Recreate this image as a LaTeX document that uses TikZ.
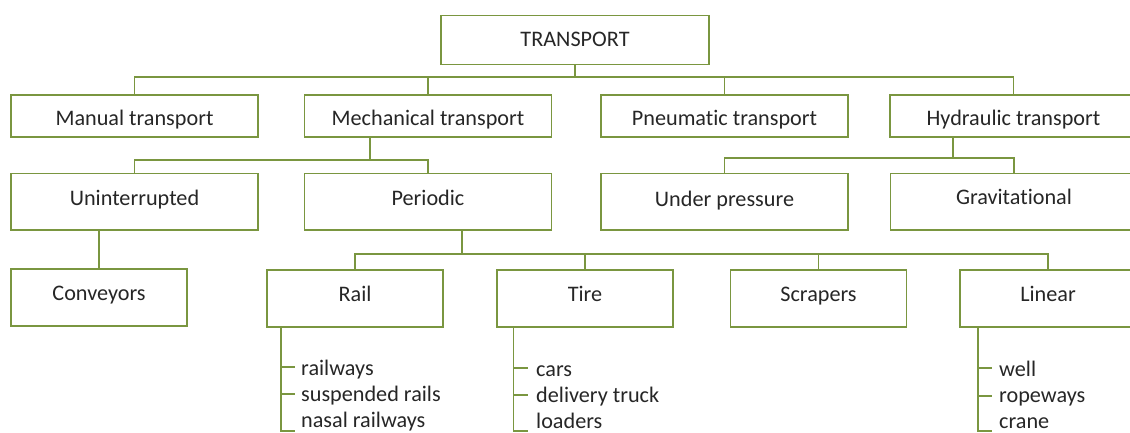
\documentclass[tikz,border=0pt]{standalone}
\usepackage{fontspec}
\setmainfont{Carlito}[Ligatures={NoCommon}]
\definecolor{linegreen}{RGB}{122,150,64}
\definecolor{txt}{RGB}{38,38,38}
\tikzset{
  box/.style={draw=linegreen, line width=1.4pt, rectangle, inner sep=0pt, text=txt,
    font=\fontsize{22.2}{26}\selectfont, text depth=0pt},
  lvlT/.style={box, minimum width=268pt, minimum height=49pt, text height=14pt},
  lvlA/.style={box, minimum width=247pt, minimum height=42pt, text height=20pt},
  lvlB/.style={box, minimum width=247pt, minimum height=56.5pt, text height=6.5pt},
  lvlC/.style={box, minimum width=176pt, minimum height=57pt, text height=6pt},
  item/.style={anchor=base west, inner sep=0pt, text=txt, font=\fontsize{22.2}{26}\selectfont},
  conn/.style={draw=linegreen, line width=1.4pt},
}
\begin{document}
\begin{tikzpicture}[x=1pt,y=-1pt]
\useasboundingbox (0,0) rectangle (1130,433);
\clip (0,0) rectangle (1130,433);
% top
\node[lvlT] (T) at (575,40) {TRANSPORT};
% level 1
\node[lvlA] (man) at (134.5,116) {Manual transport};
\node[lvlA] (mech) at (428,116) {Mechanical transport};
\node[lvlA] (pneu) at (724.5,116) {Pneumatic transport};
\node[lvlA] (hyd) at (1013.5,116) {Hydraulic transport};
% level 2
\node[lvlB] (unint) at (134.5,201.75) {Uninterrupted};
\node[lvlB] (per) at (428,201.75) {Periodic};
\node[lvlB, text height=9pt] (under) at (724.5,201.75) {Under pressure};
\node[lvlB, text height=5pt] (grav) at (1014,201.75) {Gravitational};
% level 3
\node[lvlC] (conv) at (99,297.5) {Conveyors};
\node[lvlC] (rail) at (355,298.5) {Rail};
\node[lvlC] (tire) at (585,298.5) {Tire};
\node[lvlC] (scr) at (818.5,298.5) {Scrapers};
\node[lvlC] (lin) at (1048,298.5) {Linear};
% connectors level 0 -> 1
\coordinate (b1) at (0,77);
\draw[conn] (T.south) -- (T.south |- b1);
\draw[conn] (man.north) |- (hyd.north |- b1) -- (hyd.north);
\draw[conn] (mech.north) -- (mech.north |- b1);
\draw[conn] (pneu.north) -- (pneu.north |- b1);
% mechanical -> level 2
\coordinate (ms) at (370,160);
\draw[conn] (mech.south -| ms) -- (ms);
\draw[conn] (unint.north) |- (per.north |- ms) -- (per.north);
% hydraulic -> level 2
\coordinate (hs) at (953,158);
\draw[conn] (hyd.south -| hs) -- (hs);
\draw[conn] (under.north) |- (grav.north |- hs) -- (grav.north);
% uninterrupted -> conveyors
\draw[conn] (unint.south -| conv.north) -- (conv.north);
% periodic -> level 3
\coordinate (ps) at (462,254);
\draw[conn] (per.south -| ps) -- (ps);
\draw[conn] (rail.north) |- (lin.north |- ps) -- (lin.north);
\draw[conn] (tire.north) -- (tire.north |- ps);
\draw[conn] (scr.north) -- (scr.north |- ps);
% Rail list
\node[item] (r1) at (301,375) {railways};
\node[item] (r2) at (301,401) {suspended rails};
\node[item] (r3) at (301,427) {nasal railways};
\coordinate (rv) at (281,431);
\draw[conn] (rail.south -| rv) -- (rv) -- ++(14,0);
\draw[conn] (281,367) -- ++(14,0);
\draw[conn] (281,394) -- ++(14,0);
% Tire list
\node[item] (t1) at (536,376) {cars};
\node[item] (t2) at (536,402) {delivery truck};
\node[item] (t3) at (536,428) {loaders};
\coordinate (tv) at (513.5,431);
\draw[conn] (tire.south -| tv) -- (tv) -- ++(14,0);
\draw[conn] (513.5,368) -- ++(14,0);
\draw[conn] (513.5,395) -- ++(14,0);
% Linear list
\node[item] (l1) at (999,376) {well};
\node[item] (l2) at (999,402) {ropeways};
\node[item] (l3) at (999,428) {crane};
\coordinate (lv) at (978,431);
\draw[conn] (lin.south -| lv) -- (lv) -- ++(14,0);
\draw[conn] (978,368) -- ++(14,0);
\draw[conn] (978,396) -- ++(14,0);
\end{tikzpicture}
\end{document}
